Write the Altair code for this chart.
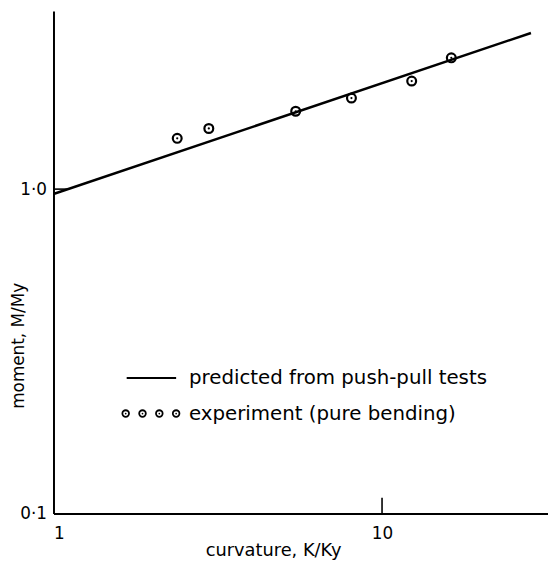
import altair as alt
import pandas as pd

# predicted line (from push-pull tests)
line_curv = [1.0, 28.4]
line_moment = [0.966, 3.03]

# experiment (pure bending)
exp_curv = [2.38, 2.97, 5.46, 8.07, 12.31, 16.25]
exp_moment = [1.434, 1.538, 1.738, 1.909, 2.154, 2.54]

# axis ticks
x_ticks = [1, 10]
x_tick_text = ["1", "10"]
y_ticks = [0.1, 1.0]
y_tick_text = ["0·1", "1·0"]
legend_labels = ["predicted from push-pull tests", "experiment (pure bending)"]

W, H = 500, 508
FONT = "DejaVu Sans"

xscale = alt.Scale(type="log", domain=[1, 32], nice=False)
yscale = alt.Scale(type="log", domain=[0.1, 3.54], nice=False)

line_df = pd.DataFrame({"k": line_curv, "m": line_moment})
pts_df = pd.DataFrame({"k": exp_curv, "m": exp_moment})

x_expr = " : ".join([f"datum.value == {v} ? '{t}'" for v, t in zip(x_ticks, x_tick_text)]) + " : ''"
y_expr = "datum.value < 0.5 ? '%s' : '%s'" % (y_tick_text[0], y_tick_text[1])

xaxis = alt.Axis(values=x_ticks, labelExpr=x_expr, ticks=False, tickSize=0, grid=False,
                 labelPadding=12, titleX=222, titleY=42, titleBaseline="alphabetic",
                 titleAlign="center", titleFontSize=18)
yaxis = alt.Axis(values=y_ticks, labelExpr=y_expr, ticks=False, tickSize=0, grid=False,
                 labelPadding=7, titleX=-35, titleY=338, titleAlign="center", titleBaseline="middle",
                 titleFontSize=17)


def X():
    return alt.X("k:Q", scale=xscale, axis=xaxis, title="curvature, K/Ky")


def Y():
    return alt.Y("m:Q", scale=yscale, axis=yaxis, title="moment, M/My")


line = alt.Chart(line_df).mark_line(color="black", strokeWidth=2.5).encode(x=X(), y=Y())

rings = alt.Chart(pts_df).mark_point(shape="circle", filled=False, size=80, strokeWidth=2.2,
                                     color="black", opacity=1).encode(x=X(), y=Y())
dots = alt.Chart(pts_df).mark_point(shape="circle", filled=True, size=5, color="black",
                                    opacity=1).encode(x=X(), y=Y())

xt = alt.Chart(pd.DataFrame({"k": [x_ticks[1]]})).mark_rule(color="black", strokeWidth=1.6).encode(
    x=X(), y=alt.value(H - 16), y2=alt.value(H))
yt = alt.Chart(pd.DataFrame({"m": [y_ticks[1]]})).mark_rule(color="black", strokeWidth=1.6).encode(
    y=Y(), x=alt.value(0), x2=alt.value(15))

one = pd.DataFrame({"a": [0]})
leg_line = alt.Chart(one).mark_rule(color="black", strokeWidth=2).encode(
    x=alt.value(74), x2=alt.value(124), y=alt.value(371))
leg_layers = [leg_line]
for px in [73, 90, 107, 124]:
    leg_layers.append(alt.Chart(one).mark_point(shape="circle", filled=False, size=45, strokeWidth=1.8,
                                                color="black", opacity=1).encode(
        x=alt.value(px), y=alt.value(407)))
    leg_layers.append(alt.Chart(one).mark_point(shape="circle", filled=True, size=3,
                                                color="black", opacity=1).encode(
        x=alt.value(px), y=alt.value(407)))
for i, yy in enumerate([371, 407]):
    leg_layers.append(alt.Chart(one).mark_text(align="left", baseline="middle", font=FONT,
                                               fontSize=20, color="black").encode(
        x=alt.value(137), y=alt.value(yy), text=alt.value(legend_labels[i])))

chart = alt.layer(line, rings, dots, xt, yt, *leg_layers).properties(
    width=W, height=H,
    autosize=alt.AutoSizeParams(type="none"),
    padding={"left": 46, "top": 0, "right": 0, "bottom": 47},
).configure_view(stroke=None).configure_axis(
    domainColor="black", domainWidth=2, labelFont=FONT, titleFont=FONT,
    labelFontSize=17, labelColor="black", titleColor="black",
    titleFontWeight="normal",
)

chart.save("out.html", embed_options={"renderer": "svg", "actions": False})
